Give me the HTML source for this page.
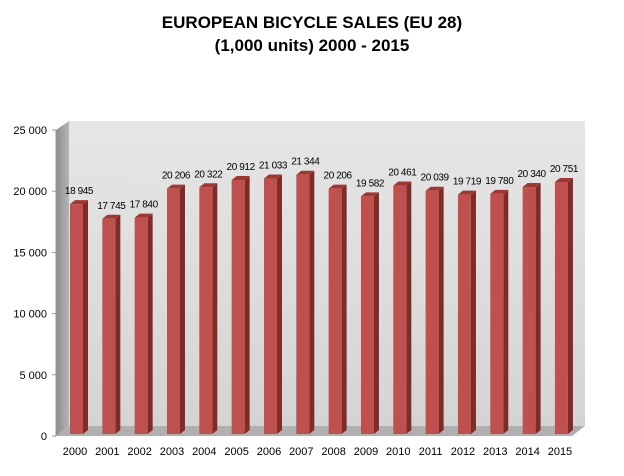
<!DOCTYPE html>
<html><head><meta charset="utf-8"><style>
body{margin:0;background:#fff;width:624px;height:471px;overflow:hidden;font-family:"Liberation Sans",sans-serif}
</style></head><body>
<svg width="624" height="471">
<defs>
<linearGradient id="lw" x1="0" x2="1"><stop offset="0" stop-color="#8c8c8c"/><stop offset="1" stop-color="#b5b5b5"/></linearGradient>
<linearGradient id="bw" x1="0" y1="0" x2="0" y2="1"><stop offset="0" stop-color="#e6e6e6"/><stop offset="1" stop-color="#d4d4d4"/></linearGradient>
</defs>
<g font-weight="bold" font-size="17" text-anchor="middle" fill="#000">
<text x="312" y="28">EUROPEAN BICYCLE SALES (EU 28)</text>
<text x="312" y="51">(1,000 units) 2000 - 2015</text>
</g>
<polygon points="69,121 585,121 585,426 69,426" fill="url(#bw)"/>
<polygon points="56,130 69,121 69,426 56,436" fill="url(#lw)"/>
<polygon points="56,436 69,426 585,426 572,436" fill="#b0b0b0"/>
<line x1="56" y1="130" x2="56" y2="436" stroke="#999"/>
<g id="yt"></g>
<g id="bars"></g>
<g id="xl"></g>
</svg>
<script>
const years=["2000","2001","2002","2003","2004","2005","2006","2007","2008","2009","2010","2011","2012","2013","2014","2015"];
const sales=[18945,17745,17840,20206,20322,20912,21033,21344,20206,19582,20461,20039,19719,19780,20340,20751];
const yTicks=[0,5000,10000,15000,20000,25000];
const NS="http://www.w3.org/2000/svg";
const y=v=>436-v*(306/25000);
const x=i=>70+i*32.33;
const fmt=v=>v>=1000?Math.floor(v/1000)+" "+String(v%1000).padStart(3,"0"):String(v);
function mk(t,a,p){const e=document.createElementNS(NS,t);for(const k in a)e.setAttribute(k,a[k]);p.appendChild(e);return e;}
const yt=document.getElementById('yt');
yTicks.forEach(v=>{
 const t=mk('text',{x:47,y:y(v)+4,'text-anchor':'end','font-size':11,fill:'#000'},yt);
 
 
 t.textContent=fmt(v);
 mk('line',{x1:52,x2:56,y1:y(v),y2:y(v),stroke:'#999'},yt);
});
const bars=document.getElementById('bars'),xl=document.getElementById('xl');
sales.forEach((v,i)=>{
 const x0=x(i),w=13,d=5,dy=4,top=y(v),bot=434;
 const g=mk('g',{},bars);
 
 
 mk('polygon',{points:`${x0+w},${top} ${x0+w+d},${top-dy} ${x0+w+d},${bot-dy} ${x0+w},${bot}`,fill:'#7f2c29'},g);
 mk('polygon',{points:`${x0},${top} ${x0+d},${top-dy} ${x0+w+d},${top-dy} ${x0+w},${top}`,fill:'#9e3835'},g);
 mk('rect',{x:x0,y:top,width:w,height:bot-top,fill:'#c0504d'},g);
 const l=mk('text',{x:x0+9,y:top-10,'text-anchor':'middle','font-size':10,'letter-spacing':'-0.4',fill:'#000'},g);
 
 
 l.textContent=fmt(v);
 const c=mk('text',{x:x0+5,y:455,'text-anchor':'middle','font-size':11,fill:'#000'},xl);
 
 
 c.textContent=years[i];
});
</script>
</body></html>
